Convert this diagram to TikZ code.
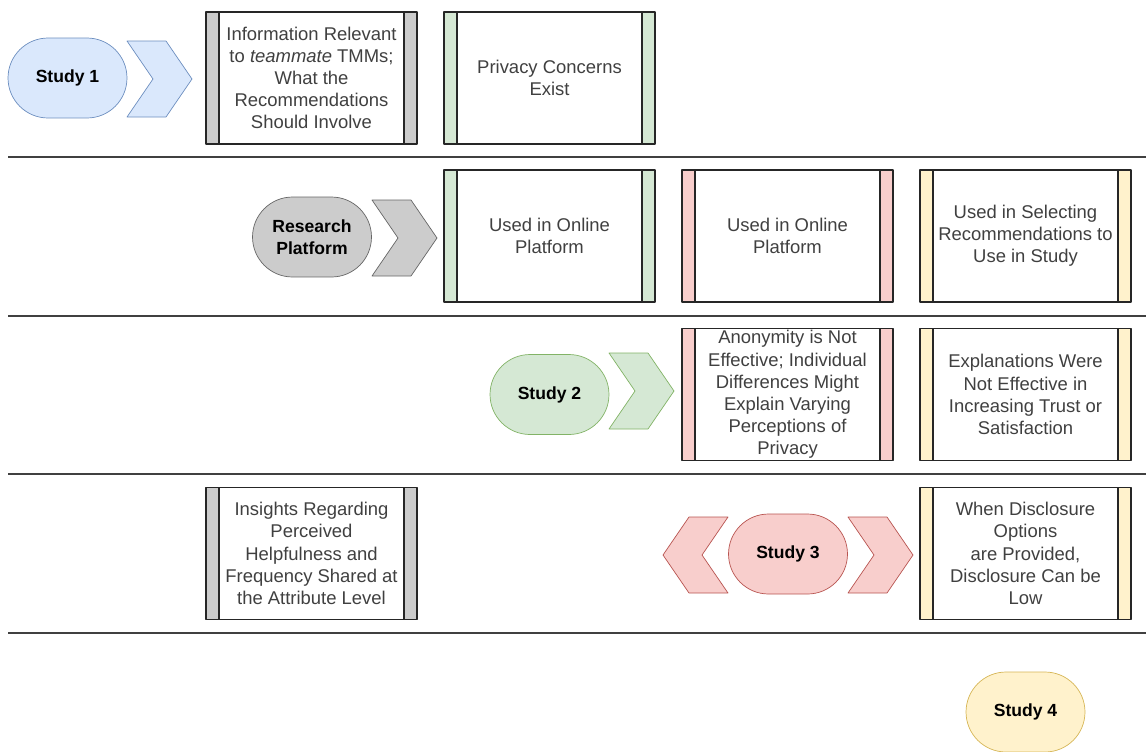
\documentclass[tikz,border=0pt]{standalone}
\usepackage{fontspec}
\setmainfont{Liberation Sans}
\usetikzlibrary{calc}
\definecolor{blueF}{HTML}{DAE8FC}\definecolor{blueD}{HTML}{6C8EBF}
\definecolor{greenF}{HTML}{D5E8D4}\definecolor{greenD}{HTML}{82B366}
\definecolor{redF}{HTML}{F8CECC}\definecolor{redD}{HTML}{B85450}
\definecolor{yellowF}{HTML}{FFF2CC}\definecolor{yellowD}{HTML}{D6B656}
\definecolor{grayF}{HTML}{CCCCCC}\definecolor{grayD}{HTML}{666666}
\begin{document}
\begin{tikzpicture}[x=0.02cm,y=-0.02cm,line join=round,
 finding/.style={draw=black!85,line width=0.8pt,fill=white,minimum width=4.22cm,minimum height=2.64cm,
  inner ysep=0pt,align=center,text=black!75,font=\fontsize{10.5}{12.6}\selectfont,
  path picture={
   \fill[#1] (path picture bounding box.north west) rectangle ([xshift=0.26cm]path picture bounding box.south west);
   \fill[#1] (path picture bounding box.north east) rectangle ([xshift=-0.26cm]path picture bounding box.south east);
   \draw[black!85,line width=0.8pt] ([xshift=0.26cm]path picture bounding box.north west)--([xshift=0.26cm]path picture bounding box.south west)
     ([xshift=-0.26cm]path picture bounding box.north east)--([xshift=-0.26cm]path picture bounding box.south east);}},
 study/.style={draw=#1D,fill=#1F,rounded corners=0.8cm,minimum width=2.38cm,minimum height=1.6cm,
  align=center,font=\bfseries\fontsize{10}{12.6}\selectfont},
 chev/.style={draw=#1D,fill=#1F},
 sep/.style={draw=black!75,line width=1.1pt}]
\useasboundingbox (0,0) rectangle (1146,751);
% separators between the rows
\foreach \y in {157,316,474,633}{\draw[sep] (8,\y)--(1146,\y);}
% studies
\node[study=blue] (s1) at (67.5,78) {Study 1};
\node[study=gray] (rp) at (312,237) {Research\\Platform};
\node[study=green] (s2) at (549.5,394.5) {Study 2};
\node[study=red] (s3) at (788,554) {Study 3};
\node[study=yellow] (s4) at (1025.5,712) {Study 4};
% chevrons
\foreach \x/\y/\c in {127/79/blue,372/238/gray,609/391/green,848/555/red}{
 \draw[chev=\c] (\x,\y) +(0,-38)--+(39,-38)--+(65,0)--+(39,38)--+(0,38)--+(26,0)--cycle;}
\draw[chev=red] (728,555) +(0,-38)--+(-39,-38)--+(-65,0)--+(-39,38)--+(0,38)--+(-26,0)--cycle;
% findings
\node[finding=grayF] (info) at (311.5,78) {Information Relevant\\to \textit{teammate} TMMs;\\What the\\Recommendations\\Should Involve};
\node[finding=greenF] (priv) at (549.5,78) {Privacy Concerns\\Exist};
\node[finding=greenF] (onlG) at (549.5,236) {Used in Online\\Platform};
\node[finding=redF] (onlR) at (787.5,236) {Used in Online\\Platform};
\node[finding=yellowF] (sel) at (1025.5,236) {Used in Selecting\\Recommendations to\\Use in Study};
\node[finding=redF] (anon) at (787.5,394.5) {Anonymity is Not\\Effective; Individual\\Differences Might\\Explain Varying\\Perceptions of\\Privacy};
\node[finding=yellowF] (expl) at (1025.5,394.5) {Explanations Were\\Not Effective in\\Increasing Trust or\\Satisfaction};
\node[finding=grayF] (ins) at (311.5,553.5) {Insights Regarding\\Perceived\\Helpfulness and\\Frequency Shared at\\the Attribute Level};
\node[finding=yellowF] (disc) at (1025.5,553.5) {When Disclosure\\Options\\are Provided,\\Disclosure Can be\\Low};
\end{tikzpicture}
\end{document}
